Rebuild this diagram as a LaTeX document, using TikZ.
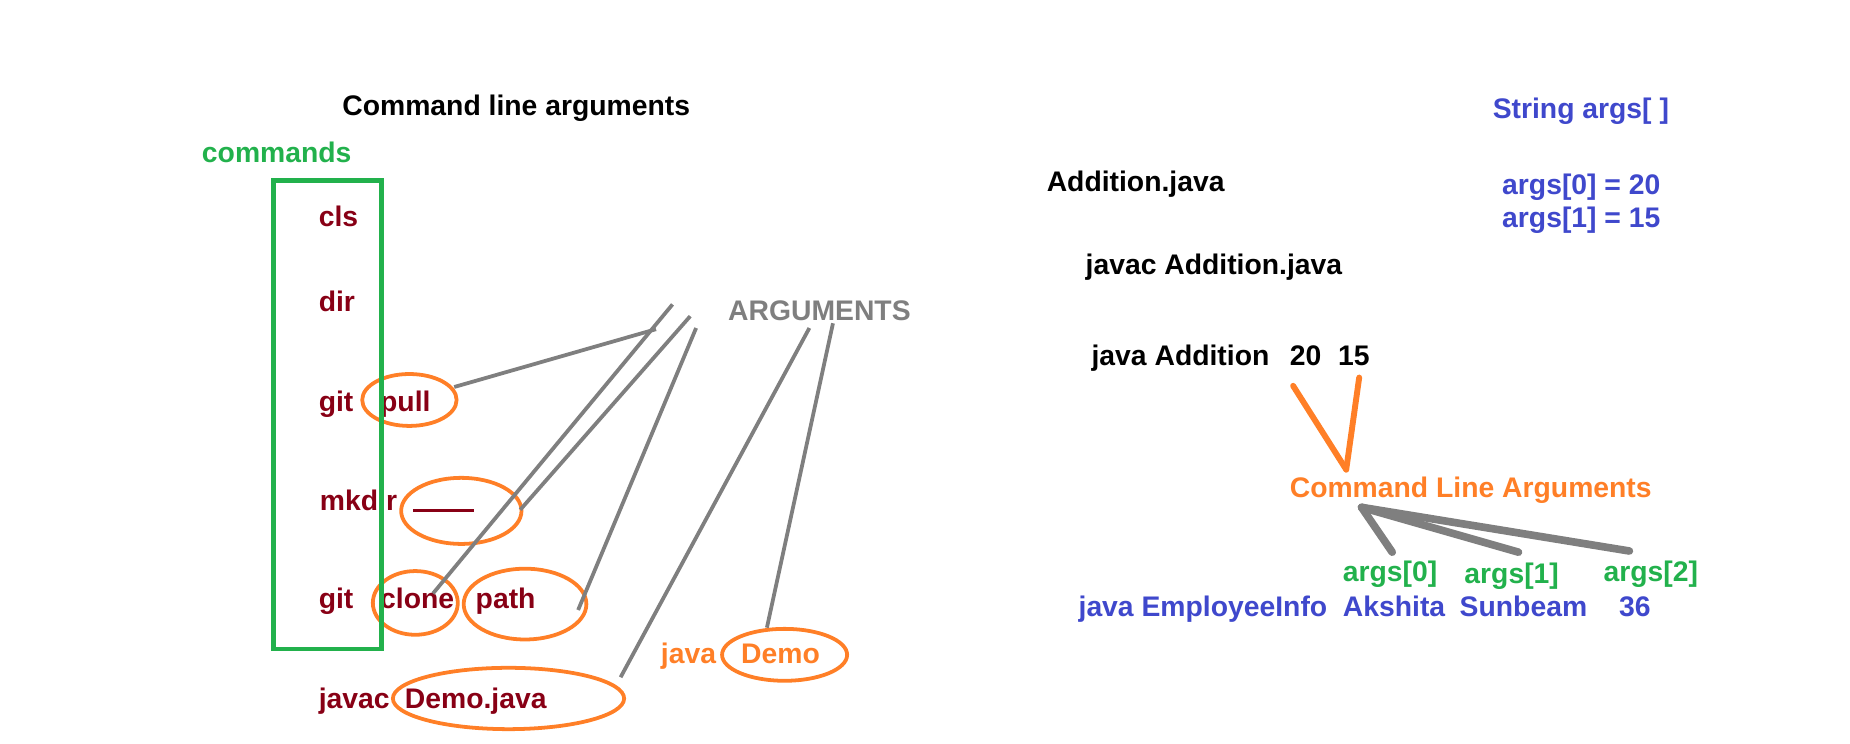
\documentclass[tikz,border=0pt]{standalone}
\usepackage{fontspec}
\setmainfont{Liberation Sans}
\usetikzlibrary{shapes.geometric}
\definecolor{dred}{HTML}{880015}
\definecolor{pgreen}{HTML}{22B14C}
\definecolor{porange}{HTML}{FF7F27}
\definecolor{pblue}{HTML}{3F48CC}
\definecolor{pgray}{HTML}{7F7F7F}
\begin{document}
\begin{tikzpicture}[x=1pt,y=-1pt,
  lbl/.style={font=\fontsize{24}{28}\selectfont\bfseries, inner sep=0pt, anchor=mid west, yshift=-4pt},
  cmd/.style={lbl, text=dred},
  blu/.style={lbl, text=pblue},
  grn/.style={lbl, text=pgreen},
  org/.style={lbl, text=porange},
  oval/.style={ellipse, draw=porange, line width=3.2pt, inner sep=0pt},
  gline/.style={draw=pgray, line width=3.2pt},
  oline/.style={draw=porange, line width=5pt, line cap=round},
  tline/.style={draw=pgray, line width=6.5pt, line cap=round}]
\useasboundingbox (0,0) rectangle (1568,630);
% ---------- left part ----------
\node[lbl] (title) at (290,91) {Command line arguments};
\node[grn] (commands) at (171,131) {commands};
\node[cmd] (cls) at (270,185) {cls};
\node[cmd] (dir) at (270,257) {dir};
\node[cmd] (git1) at (270,342) {git};
\node[cmd] (pull) at (322,342) {pull};
\node[cmd] (mkdir) at (271,426) {mkdir};
\coordinate (u1) at (350,433);
\coordinate (u2) at (402,433);
\draw[dred, line width=2.5pt] (u1) -- (u2);
\node[cmd] (git2) at (270,509) {git};
\node[cmd] (clone) at (322,509) {clone};
\node[cmd] (path) at (403,509) {path};
\node[cmd] (javac) at (270,594) {javac};
\node[cmd] (demojava) at (343,594) {Demo.java};
\node[org] (java) at (560,556) {java};
\node[org] (demo) at (628,556) {Demo};
\node[lbl, text=pgray] (arguments) at (617,265) {ARGUMENTS};
% ovals
\node[oval, minimum width=80pt, minimum height=44pt] (opull) at (347,339) {};
\node[oval, minimum width=102pt, minimum height=56pt] (oblank) at (391,433) {};
\node[oval, minimum width=72pt, minimum height=54pt] (oclone) at (352,511) {};
\node[oval, minimum width=104pt, minimum height=60pt] (opath) at (445,512) {};
\node[oval, minimum width=196pt, minimum height=52pt] (odemojava) at (431,592) {};
\node[oval, minimum width=106pt, minimum height=44pt] (odemo) at (665,555) {};
% green box
\node[draw=pgreen, line width=4pt, minimum width=91.5pt, minimum height=397pt, inner sep=0pt, outer sep=0pt, anchor=north west] (box) at (232,153) {};
% gray lines
\coordinate (a1) at (556,279);
\coordinate (a2) at (570,258);
\coordinate (a3) at (585,268);
\coordinate (a4) at (590,278);
\coordinate (a5) at (686,278);
\coordinate (a6) at (706,274);
\coordinate (p1) at (385,328);
\coordinate (p2) at (367,503);
\coordinate (p3) at (441,432);
\coordinate (p4) at (490,517);
\coordinate (p5) at (526,574);
\coordinate (p6) at (650,532);
\draw[gline] (p1) -- (a1);
\draw[gline] (a2) -- (p2);
\draw[gline] (a3) -- (p3);
\draw[gline] (a4) -- (p4);
\draw[gline] (a5) -- (p5);
\draw[gline] (a6) -- (p6);
% ---------- right part ----------
\node[blu] (stringargs) at (1265,94) {String args[ ]};
\node[lbl] (addition) at (887,156) {Addition.java};
\node[blu] (argz0) at (1273,158) {args[0] = 20};
\node[blu] (argz1) at (1273,186) {args[1] = 15};
\node[lbl] (javacadd) at (920,226) {javac Addition.java};
\node[lbl] (javaadd) at (925,303) {java Addition};
\node[lbl] (twenty) at (1093,303) {20};
\node[lbl] (fifteen) at (1134,303) {15};
\node[org] (cla) at (1093,415) {Command Line Arguments};
\node[grn] (g0) at (1138,486) {args[0]};
\node[grn] (g1) at (1241,488) {args[1]};
\node[grn] (g2) at (1359,486) {args[2]};
\node[blu] (empinfo) at (914,516) {java EmployeeInfo};
\node[blu] (akshita) at (1138,516) {Akshita};
\node[blu] (sunbeam) at (1237,516) {Sunbeam};
\node[blu] (n36) at (1372,516) {36};
\coordinate (v1) at (1096,327);
\coordinate (v2) at (1152,320);
\coordinate (vtip) at (1141,398);
\draw[oline] (v1) -- (vtip);
\draw[oline] (v2) -- (vtip);
\coordinate (hub) at (1154,430);
\coordinate (t0) at (1180,468);
\coordinate (t1) at (1287,468);
\coordinate (t2) at (1381,467);
\draw[tline] (hub) -- (t0);
\draw[tline] (hub) -- (t1);
\draw[tline] (hub) -- (t2);
\end{tikzpicture}
\end{document}
